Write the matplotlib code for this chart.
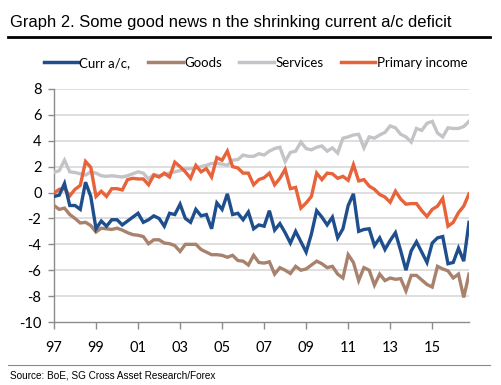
import matplotlib
matplotlib.use("Agg")
import matplotlib.pyplot as plt
from matplotlib.lines import Line2D
import numpy as np

# ---- data (quarterly, 1997Q1 .. 2016Q4, % of GDP) ----
curr_ac = [-0.3, -0.2, 0.7, -1.0, -1.0, -1.3, 0.8, -0.3, -2.8, -2.2,
           -2.6, -2.1, -2.1, -2.5, -2.2, -1.9, -1.6, -2.3, -2.1, -1.8,
           -2.0, -2.6, -1.6, -1.7, -0.9, -2.0, -2.3, -1.3, -1.8, -1.7,
           -2.8, -0.8, -1.3, -0.1, -1.7, -1.6, -2.1, -1.5, -2.8, -2.5,
           -2.6, -1.4, -2.9, -2.4, -3.1, -3.9, -3.0, -3.8, -4.6, -3.2,
           -1.4, -1.9, -2.5, -1.9, -3.5, -2.8, -1.0, -0.1, -3.0, -2.85,
           -2.8, -4.1, -3.5, -4.4, -3.7, -3.1, -4.5, -6.0, -4.5, -3.8,
           -4.6, -5.4, -3.9, -3.5, -3.4, -5.5, -5.4, -4.3, -5.3, -2.3]
goods = [-1.0, -1.3, -1.2, -1.7, -2.0, -2.35, -2.3, -2.55, -3.05, -2.75,
         -2.8, -2.85, -2.75, -2.9, -3.1, -3.25, -3.3, -3.4, -3.95, -3.65,
         -3.65, -3.9, -3.95, -4.1, -4.55, -4.0, -4.0, -4.0, -4.4, -4.6,
         -4.8, -4.8, -4.85, -5.0, -4.85, -5.25, -5.3, -5.6, -4.85, -5.4,
         -5.45, -5.35, -6.3, -5.8, -6.0, -6.25, -5.7, -6.0, -5.9, -5.6,
         -5.3, -5.5, -5.8, -5.7, -6.3, -6.6, -4.8, -5.4, -6.8, -5.8,
         -6.0, -7.15, -6.3, -6.8, -6.6, -6.7, -6.65, -7.6, -6.4, -6.4,
         -6.75, -7.1, -7.3, -5.7, -5.9, -6.05, -6.6, -6.3, -8.1, -6.3]
services = [1.55, 1.7, 2.5, 1.6, 1.55, 1.45, 1.35, 1.6, 1.5, 1.3,
            1.25, 1.3, 1.25, 1.2, 1.3, 1.45, 1.6, 1.5, 1.05, 1.4,
            1.3, 1.4, 1.5, 1.6, 1.7, 1.85, 1.85, 1.9, 2.0, 2.1,
            2.25, 2.25, 2.2, 2.1, 2.5, 2.55, 2.9, 2.8, 2.8, 3.0,
            2.9, 3.2, 3.4, 3.5, 2.4, 3.1, 3.2, 3.9, 3.4, 3.3,
            3.5, 3.6, 3.2, 3.45, 3.05, 4.2, 4.3, 4.45, 4.5, 3.45,
            4.3, 4.2, 4.45, 4.65, 5.15, 5.0, 4.5, 4.3, 3.9, 4.95,
            4.8, 5.35, 5.5, 4.6, 4.3, 5.0, 4.95, 4.95, 5.1, 5.5]
primary_income = [-0.05, 0.25, 0.3, -0.25, 0.25, 0.55, 2.4, 1.95, -0.3, 0.1,
                  -0.3, 0.3, 0.3, 0.2, 1.0, 1.1, 1.05, 1.05, 0.6, 1.35,
                  1.2, 1.5, 1.2, 2.35, 2.0, 1.6, 1.1, 2.1, 1.6, 1.85,
                  1.2, 2.7, 2.5, 3.2, 2.0, 1.9, 1.5, 1.5, 0.6, 1.0,
                  1.15, 1.5, 0.6, 1.1, 1.8, 0.3, 0.4, -1.2, -0.8, -0.3,
                  1.5, 1.0, 1.5, 1.45, 1.1, 1.25, 0.95, 2.15, 0.9, 1.0,
                  0.5, 0.25, -0.15, -0.35, -0.75, 0.1, -0.5, -0.9, -0.85, -0.85,
                  -1.4, -1.85, -1.3, -1.05, -0.45, -2.6, -2.3, -1.55, -1.05, -0.1]
tick_labels = ["97", "99", "01", "03", "05", "07", "09", "11", "13", "15"]
y_ticks = [8, 6, 4, 2, 0, -2, -4, -6, -8, -10]
series_names = ["Curr a/c,", "Goods", "Services", "Primary income"]

colors = ["#1f4e8d", "#a8826d", "#c3c3c8", "#e8623a"]

W, H = 501, 385
fig = plt.figure(figsize=(W / 100, H / 100), dpi=100)
ax = fig.add_axes([54 / W, 1 - 322 / H, (469 - 54) / W, (322 - 89) / H])

x = np.arange(len(curr_ac))
lw = 2.4
ax.plot(x, services, color=colors[2], lw=lw, solid_joinstyle="miter", zorder=3)
ax.plot(x, goods, color=colors[1], lw=lw, solid_joinstyle="miter", zorder=4)
ax.plot(x, primary_income, color=colors[3], lw=lw, solid_joinstyle="miter", zorder=5)
ax.plot(x, curr_ac, color=colors[0], lw=lw, solid_joinstyle="miter", zorder=6)

ax.set_xlim(0, len(curr_ac) - 1)
ax.set_ylim(-10, 8)
ax.set_yticks(y_ticks)
ax.set_yticklabels([str(v) for v in y_ticks])
ax.set_xticks(np.arange(0, len(curr_ac), 8)[:len(tick_labels)])
ax.set_xticklabels(tick_labels)

for v in y_ticks:
    if v != -10:
        ax.axhline(v, color="#dcdcdc", lw=1.3, zorder=1)

for s in ["top", "right"]:
    ax.spines[s].set_visible(False)
for s in ["left", "bottom"]:
    ax.spines[s].set_color("#8c8c8c")
    ax.spines[s].set_linewidth(1.0)

ax.tick_params(axis="both", colors="#8c8c8c", length=4, width=1.0, labelcolor="black")
ax.tick_params(axis="y", direction="out", pad=5)
ax.tick_params(axis="x", direction="out", length=5, pad=9)
for lab in ax.get_xticklabels() + ax.get_yticklabels():
    lab.set_fontfamily(["Lato", "DejaVu Sans"])
    lab.set_fontsize(10.5)

# legend
handles = [Line2D([0], [0], color=c, lw=2.5) for c in colors]
fig.legend(handles, series_names, loc="center", bbox_to_anchor=(511 / 2 / W, 1 - 63 / H),
           ncol=4, frameon=False, handlelength=2.6, handletextpad=0.1,
           columnspacing=1.35, prop=dict(family=["Lato", "DejaVu Sans"], size=9.5))

# title and rules
fig.text(10 / W, 1 - 22 / H, "Graph 2. Some good news n the shrinking current a/c deficit",
         fontsize=11.9, family=["Liberation Sans", "DejaVu Sans"],
         va="center", ha="left", color="#000000")
fig.add_artist(Line2D([8 / W, 490 / W], [1 - 37 / H, 1 - 37 / H], color="black", lw=2.0))
fig.add_artist(Line2D([8 / W, 490 / W], [1 - 364.5 / H, 1 - 364.5 / H], color="#8a8a8a", lw=0.8))
fig.text(10 / W, 1 - 376 / H, "Source: BoE, SG Cross Asset Research/Forex",
         fontsize=7.2, family=["Liberation Sans", "DejaVu Sans"], va="center", ha="left")

fig.savefig("out.png", dpi=100)
